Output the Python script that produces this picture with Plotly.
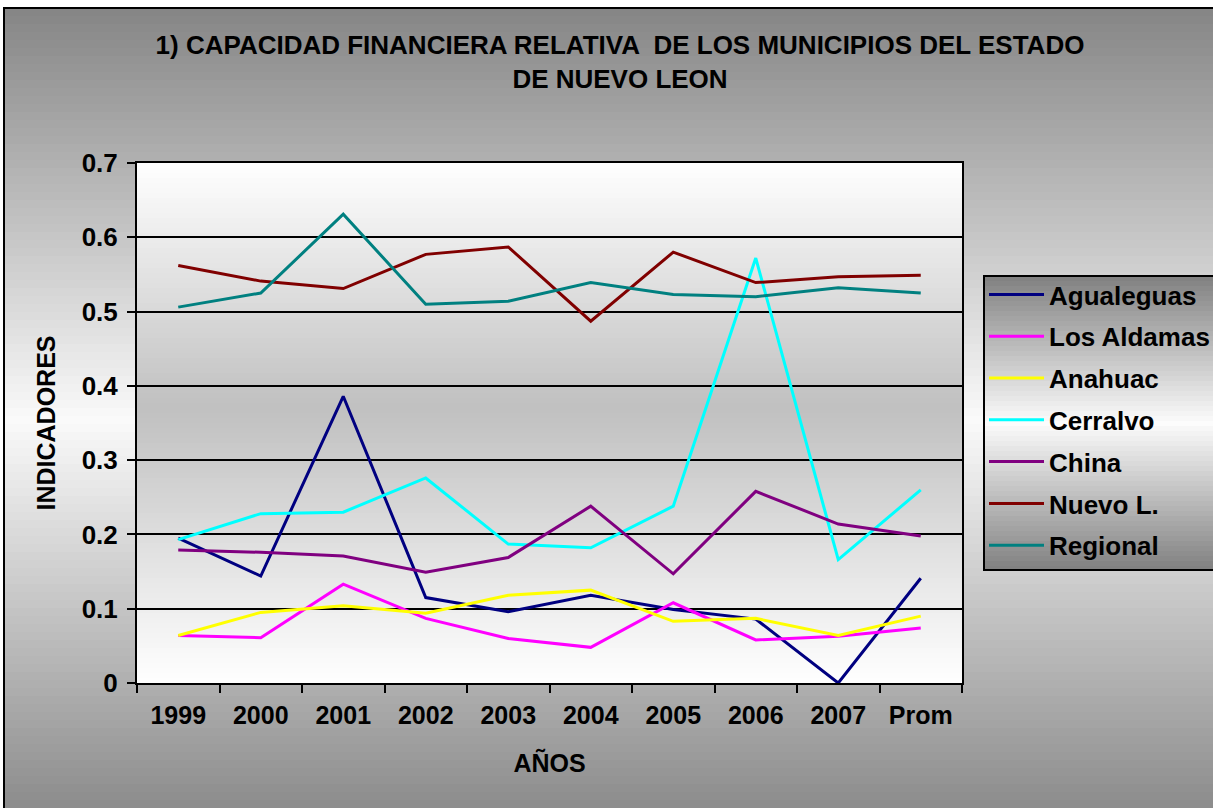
import plotly.graph_objects as go

# ---------------- data ----------------
categories = ["1999", "2000", "2001", "2002", "2003", "2004", "2005", "2006", "2007", "Prom"]

agualeguas = [0.195, 0.144, 0.386, 0.115, 0.096, 0.118, 0.099, 0.086, 0.000, 0.141]
los_aldamas = [0.064, 0.061, 0.133, 0.087, 0.060, 0.048, 0.108, 0.058, 0.063, 0.074]
anahuac = [0.064, 0.095, 0.104, 0.094, 0.118, 0.125, 0.083, 0.087, 0.064, 0.090]
cerralvo = [0.193, 0.228, 0.230, 0.276, 0.187, 0.182, 0.238, 0.572, 0.166, 0.260]
china = [0.179, 0.176, 0.171, 0.149, 0.169, 0.238, 0.147, 0.258, 0.214, 0.198]
nuevo_l = [0.562, 0.541, 0.531, 0.577, 0.587, 0.487, 0.580, 0.539, 0.547, 0.549]
regional = [0.506, 0.525, 0.631, 0.510, 0.514, 0.539, 0.523, 0.520, 0.532, 0.525]

series_names = ["Agualeguas", "Los Aldamas", "Anahuac", "Cerralvo", "China", "Nuevo L.", "Regional"]
series_values = [agualeguas, los_aldamas, anahuac, cerralvo, china, nuevo_l, regional]
series_colors = ["#000080", "#FF00FF", "#FFFF00", "#00FFFF", "#800080", "#800000", "#008080"]

y_ticks = [0, 0.1, 0.2, 0.3, 0.4, 0.5, 0.6, 0.7]

# ---------------- geometry ----------------
# page body margin is removed (post_script), so figure px = screen px
OFF = 0
W, H = 1213 - OFF, 808 - OFF
PL, PR, PT, PB = 137 - OFF, 962 - OFF, 163 - OFF, 683 - OFF   # plot area (figure px)
PW, PH = PR - PL, PB - PT


def px_x(sx):
    """screen x -> paper x"""
    return (sx - OFF - PL) / PW


def px_y(sy):
    """screen y -> paper y"""
    return (PB - (sy - OFF)) / PH


def gray(v):
    v = int(round(max(0, min(255, v))))
    return f"rgb({v},{v},{v})"


shapes = []

# outer background gradient (dark - light - dark)
sy = 8
while sy < 808:
    sy2 = min(sy + 8, 812)
    mid = (sy + sy2) / 2
    c = 250 - (250 - 133) * abs(mid - 420) / 412
    shapes.append(dict(type="rect", xref="paper", yref="paper",
                       x0=px_x(4), x1=px_x(1220), y0=px_y(sy), y1=px_y(sy2 + 1),
                       fillcolor=gray(c), line=dict(width=0), layer="below"))
    sy = sy2

# plot-area gradient (white - gray - white)
sy = 163
while sy < 683:
    sy2 = min(sy + 5, 683)
    mid = (sy + sy2) / 2
    if mid < 408:
        c = 192 + 63 * (408 - mid) / (408 - 163)
    else:
        c = 192 + 63 * (mid - 408) / (683 - 408)
    shapes.append(dict(type="rect", xref="paper", yref="paper",
                       x0=0, x1=1, y0=px_y(sy), y1=px_y(sy2 + 0.6),
                       fillcolor=gray(c), line=dict(width=0), layer="below"))
    sy = sy2

# legend box gradient (screen px)
LX0, LX1, LY0, LY1 = 984, 1225, 276, 570
sy = LY0
while sy < LY1:
    sy2 = min(sy + 5, LY1)
    mid = (sy + sy2) / 2
    c = 252 - (252 - 128) * abs(mid - 423) / 147
    shapes.append(dict(type="rect", xref="paper", yref="paper",
                       x0=px_x(LX0), x1=px_x(LX1), y0=px_y(sy), y1=px_y(sy2 + 0.6),
                       fillcolor=gray(c), line=dict(width=0), layer="below"))
    sy = sy2
shapes.append(dict(type="rect", xref="paper", yref="paper",
                   x0=px_x(LX0), x1=px_x(LX1), y0=px_y(LY0), y1=px_y(LY1),
                   fillcolor="rgba(0,0,0,0)", line=dict(color="black", width=2), layer="below"))

# outer border
shapes.append(dict(type="rect", xref="paper", yref="paper",
                   x0=px_x(4), x1=px_x(1225), y0=px_y(8), y1=px_y(820),
                   fillcolor="rgba(0,0,0,0)", line=dict(color="black", width=2), layer="above"))

fig = go.Figure()
for name, vals, col in zip(series_names, series_values, series_colors):
    fig.add_trace(go.Scatter(x=categories, y=vals, name=name, mode="lines",
                             line=dict(color=col, width=3), legendgroup=name))

FONT = "Liberation Sans, Arial, sans-serif"


def f(size):
    return dict(family=FONT, size=size, color="black", weight="bold")


fig.update_layout(
    width=W, height=H,
    margin=dict(l=PL, r=W - PR, t=PT, b=H - PB, pad=0, autoexpand=False),
    paper_bgcolor="white",
    plot_bgcolor="rgba(0,0,0,0)",
    font=f(24),
    title=dict(text="1) CAPACIDAD FINANCIERA RELATIVA  DE LOS MUNICIPIOS DEL ESTADO<br>DE NUEVO LEON",
               x=(620 - OFF) / W, xanchor="center", xref="container",
               y=1 - (54 - OFF) / H, yanchor="top", yref="container",
               font=f(26)),
    showlegend=True,
    legend=dict(x=px_x(LX0), y=px_y(LY0 - 5), xanchor="left", yanchor="top",
                bgcolor="rgba(0,0,0,0)", borderwidth=0,
                font=f(26),
                tracegroupgap=5, itemwidth=55, traceorder="grouped"),
    shapes=shapes,
)

fig.update_xaxes(type="category", categoryorder="array", categoryarray=categories,
                 range=[-0.5, len(categories) - 0.5],
                 showgrid=False, zeroline=False,
                 showline=True, linecolor="black", linewidth=2, mirror=True,
                 ticks="outside", ticklen=8, tickwidth=2, tickcolor="black",
                 tickson="boundaries", ticklabelstandoff=9,
                 tickfont=f(25),
                 title=dict(text="AÑOS", standoff=26, font=f(25)))

fig.update_yaxes(range=[0, 0.7], tickvals=y_ticks,
                 showgrid=True, gridcolor="black", gridwidth=1.75,
                 zeroline=False,
                 showline=True, linecolor="black", linewidth=2, mirror=True,
                 ticks="outside", ticklen=8, tickwidth=2, tickcolor="black",
                 ticklabelstandoff=4,
                 tickfont=f(26),
                 title=dict(text="INDICADORES", standoff=19, font=f(25)))

fig.write_html("out.html",
               config={"displayModeBar": False},
               post_script="document.body.style.margin='0';document.body.style.overflow='hidden';")
